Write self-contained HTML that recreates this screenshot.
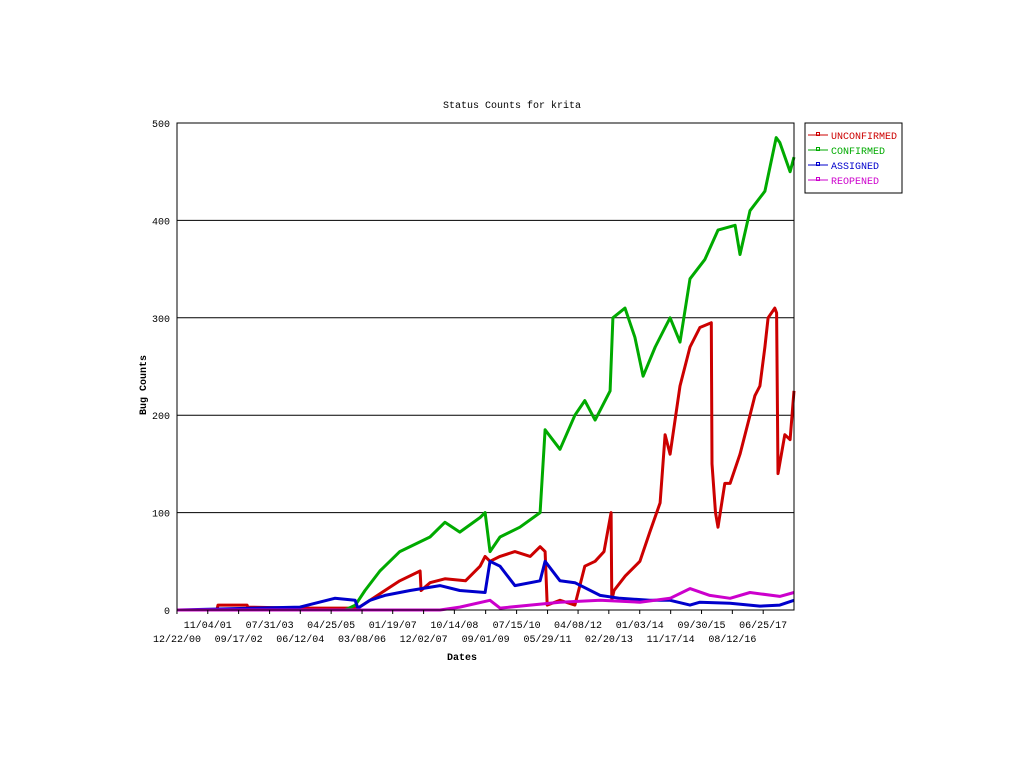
<!DOCTYPE html>
<html><head><meta charset="utf-8"><style>
body{margin:0;background:#fff;width:1024px;height:768px;overflow:hidden}
text{font-family:"Liberation Mono","DejaVu Sans Mono",monospace;font-size:10px}
</style></head><body>
<svg id="chart" width="1024" height="768" xmlns="http://www.w3.org/2000/svg">
<text x="512" y="108" text-anchor="middle" font-size="12">Status Counts for krita</text>
<text transform="translate(146,385) rotate(-90)" text-anchor="middle" font-weight="bold" font-size="11">Bug Counts</text>
<text x="462" y="660" text-anchor="middle" font-weight="bold" font-size="11">Dates</text>
<g id="grid"></g><g id="series"></g><g id="axes"></g>
<g>
<rect x="805" y="123" width="97" height="70" fill="#fff" stroke="#000"/>
<g id="legend"></g></g>
</svg>
<script>
const tickDates=["12/22/00","11/04/01","09/17/02","07/31/03","06/12/04","04/25/05","03/08/06","01/19/07","12/02/07","10/14/08","09/01/09","07/15/10","05/29/11","04/08/12","02/20/13","01/03/14","11/17/14","09/30/15","08/12/16","06/25/17"];
const yTicks=[0,100,200,300,400,500];
const seriesNames=["UNCONFIRMED","CONFIRMED","ASSIGNED","REOPENED"];
const seriesColors=["#cc0000","#00aa00","#0000cc","#cc00cc"];
const redX=[2000.98,2002.10,2002.13,2002.95,2002.97,2004.44,2006.07,2006.41,2006.83,2007.25,2007.82,2007.85,2008.10,2008.52,2009.10,2009.51,2009.65,2009.79,2010.07,2010.49,2010.92,2011.20,2011.34,2011.40,2011.76,2012.18,2012.46,2012.75,2013.00,2013.20,2013.22,2013.28,2013.60,2014.01,2014.29,2014.58,2014.72,2014.86,2015.14,2015.42,2015.70,2016.02,2016.04,2016.14,2016.21,2016.40,2016.55,2016.83,2017.11,2017.25,2017.39,2017.53,2017.62,2017.81,2017.86,2017.90,2018.09,2018.24,2018.35];
const redY=[0,0,5,5,3,2,2,10,20,30,40,20,28,32,30,45,55,50,55,60,55,65,60,5,10,5,45,50,60,100,10,20,35,50,80,110,180,160,230,270,290,295,150,100,85,130,130,160,200,220,230,270,300,310,305,140,180,175,225];
const greenX=[2005.71,2006.00,2006.27,2006.69,2007.25,2008.10,2008.52,2008.94,2009.51,2009.65,2009.79,2010.07,2010.63,2011.20,2011.34,2011.76,2012.18,2012.46,2012.75,2013.17,2013.25,2013.59,2013.87,2014.10,2014.44,2014.72,2014.86,2015.14,2015.42,2015.84,2016.21,2016.69,2016.83,2017.11,2017.53,2017.85,2017.95,2018.24,2018.35];
const greenY=[0,5,20,40,60,75,90,80,95,100,60,75,85,100,185,165,200,215,195,225,300,310,280,240,270,290,300,275,340,360,390,395,365,410,430,485,480,450,465];
const blueX=[2000.98,2004.44,2005.42,2005.99,2006.07,2006.41,2006.83,2007.54,2008.38,2008.94,2009.65,2009.79,2010.07,2010.49,2011.20,2011.34,2011.76,2012.18,2012.89,2013.45,2014.29,2014.86,2015.42,2015.70,2016.55,2017.39,2017.95,2018.35];
const blueY=[0,3,12,10,2,10,15,20,25,20,18,50,45,25,30,50,30,28,15,12,10,10,5,8,7,4,5,10];
const magX=[2000.98,2008.38,2008.94,2009.79,2010.07,2010.92,2011.76,2012.89,2014.01,2014.86,2015.42,2015.98,2016.55,2017.11,2017.95,2018.35];
const magY=[0,0,3,10,2,5,8,10,8,12,22,15,12,18,14,18];

const NS="http://www.w3.org/2000/svg";
const L=177,R=794,T=123,B=610,X0=2000.975,X1=2018.35;
function xs(v){return L+(v-X0)/(X1-X0)*(R-L);}
function ys(v){return B-v/500*(B-T);}
function parseD(s){const [m,d,y]=s.split("/").map(Number);const yr=2000+y;return yr+((m-1)*30.44+d-1)/365.25;}
function mk(tag,attrs,parent){const e=document.createElementNS(NS,tag);for(const k in attrs)e.setAttribute(k,attrs[k]);parent.appendChild(e);return e;}
const grid=document.getElementById("grid"),axes=document.getElementById("axes"),ser=document.getElementById("series"),leg=document.getElementById("legend");
yTicks.forEach(v=>{
  const g=mk("line",{x1:L,x2:R,y1:ys(v),y2:ys(v),stroke:"#000","stroke-width":1},grid);
  
  
  const t=mk("text",{x:L-7,y:ys(v)+4,"text-anchor":"end"},axes);
  t.textContent=v;
  
  
});
mk("rect",{x:L,y:T,width:R-L,height:B-T,fill:"none",stroke:"#000"},axes);
tickDates.forEach((d,i)=>{
  const x=xs(parseD(d));
  const tk=mk("line",{x1:x,x2:x,y1:B,y2:B+4,stroke:"#000"},axes);
  
  
  const t=mk("text",{x:x,y:i%2?628:642,"text-anchor":"middle"},axes);
  t.textContent=d;
  
  
});
const allX=[redX,greenX,blueX,magX],allY=[redY,greenY,blueY,magY];
seriesNames.forEach((n,i)=>{
  const pts=allX[i].map((x,j)=>xs(x).toFixed(1)+","+ys(allY[i][j]).toFixed(1)).join(" ");
  const p=mk("polyline",{points:pts,fill:"none",stroke:seriesColors[i],"stroke-width":3,"stroke-linejoin":"round"},ser);
  
  
  const y=135+i*15;
  const g=mk("g",{},leg);
  
  
  mk("line",{x1:808,x2:828,y1:y,y2:y,stroke:seriesColors[i]},g);
  mk("rect",{x:816.5,y:y-2.5,width:3,height:3,fill:"none",stroke:seriesColors[i]},g);
  const t=mk("text",{x:831,y:y+4,fill:seriesColors[i]},g);
  t.textContent=n;
});
</script>
</body></html>
